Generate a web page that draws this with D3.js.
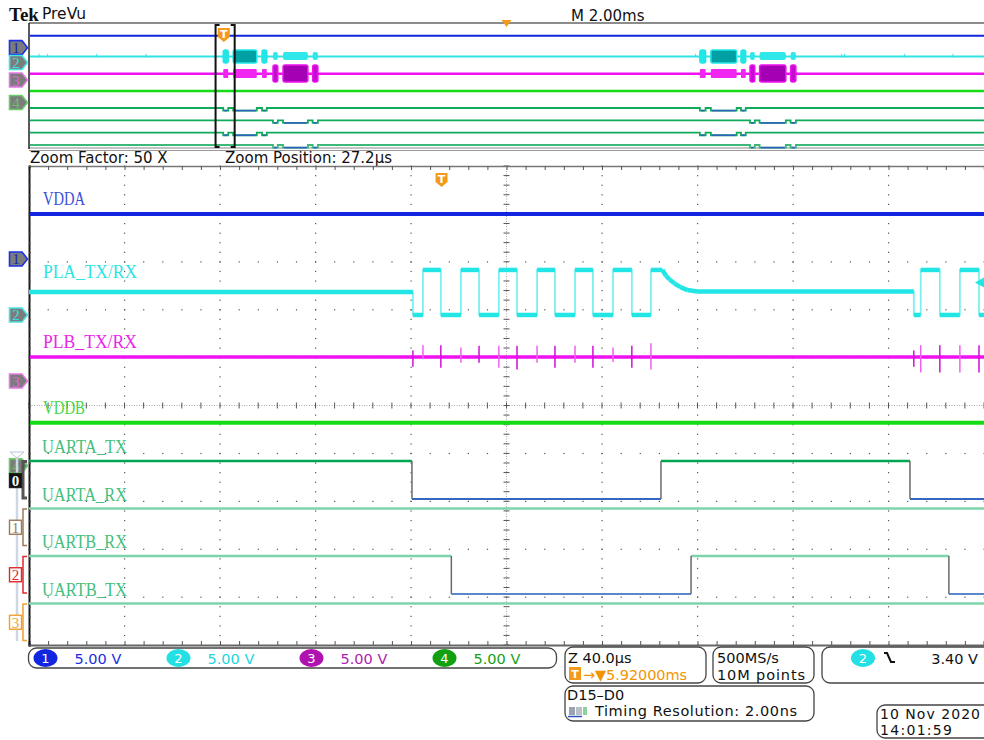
<!DOCTYPE html>
<html>
<head>
<meta charset="utf-8">
<script src="https://cdn.jsdelivr.net/npm/d3@7"></script>
<style>
  body { margin: 0; background: #fff; }
  svg { display: block; }
  text { font-family: 'DejaVu Sans', sans-serif; }
</style>
</head>
<body>
<div id="app"></div>
<script>
// scope settings, 5 V/div on every analog channel
const voltsPerDiv = 5
const chPosition = [3.06, 1.89, 0.51, -1.26]   // ground marker, divisions above centre
const zoomPerDiv = 40      // us
const zoomCenter = 27.2    // us after trigger
const ovPerDiv = 2         // ms
const ovCenter = 5.92      // ms after trigger
const trigLevel = 3.4      // V on ch2

const analogNames = ['VDDA', 'PLA_TX/RX', 'PLB_TX/RX', 'VDDB']
const digitalNames = ['UARTA_TX', 'UARTA_RX', 'UARTB_RX', 'UARTB_TX']

const vdda = 4.7
const vddb = 4.5
const plbIdle = 2.5

// PLA_TX/RX, [time us, volts]
const plaSteps = [[-172.8, 2.4], [-12.0, 0], [-7.8, 4.7], [-0.3, 0], [8.1, 4.7], [15.7, 0], [24.0, 4.7],
  [31.6, 0], [40.0, 4.7], [47.5, 0], [55.9, 4.7], [63.4, 0], [71.8, 4.7], [79.7, 0], [87.7, 4.7]]
const plaDecay = [[92.5, 4.7], [94, 4.1], [95.5, 3.7], [97.5, 3.3], [100, 2.9], [103, 2.6], [107, 2.45]]
const plaTail = [[197.8, 0], [200.7, 4.7], [208.7, 0], [217.1, 4.7], [225.1, 0]]

// PLB_TX/RX glitches at each edge, volts up / down from idle
const plbSpikeT = [-12.0, -7.8, -0.3, 8.1, 15.7, 24.0, 31.6, 40.0, 47.5, 55.9, 63.4, 71.8, 79.7, 87.7,
  197.8, 200.7, 208.7, 217.1, 225.1]
const plbSpikeUp = [0.7, 1.25, 1.25, 1.0, 1.2, 1.2, 1.2, 1.2, 1.2, 1.2, 1.2, 1.0, 1.2, 1.45, 0.7, 1.25, 1.25, 1.25, 1.25]
const plbSpikeDown = [1.0, 0.2, 1.1, 0.6, 0.6, 1.1, 1.3, 0.6, 1.1, 0.6, 1.1, 0.5, 1.1, 1.3, 1.0, 1.6, 1.6, 1.6, 1.6]

// digital edges, us, both start high
const uartaTxEdges = [-12.4, 91.9, 196.2]
const uartbRxEdges = [4.1, 104.5, 212.5]

// overview bursts, ms
const ovBurstA = [[-0.012, 0.092], [0.196, 0.69], [0.80, 0.90], [9.97, 10.09], [10.20, 10.74], [10.83, 10.93]]
const ovBurstB = [[1.03, 1.13], [1.24, 1.76], [1.86, 1.97], [11.02, 11.12], [11.22, 11.77], [11.87, 11.98]]
const ovPlaGlitch = [-3.87, -3.69, -2.66, -1.63, 9.88, 12.94, 13.0, 14.26, 15.27]

const blue = '#1226e0', cyan = '#22e6e6', magenta = '#f010f0', green = '#14dc14'
const L = 29, R = 984

const svg = d3.select('#app').append('svg').attr('width', 984).attr('height', 740)

// ---------- header ----------
svg.append('text').attr('x', 9).attr('y', 21).style('font-family', 'Liberation Serif')
  .attr('font-weight', 'bold').attr('font-size', 19).attr('fill', '#111').text('Tek')
svg.append('text').attr('x', 42).attr('y', 19).attr('font-size', 15.5).attr('fill', '#111').text('PreVu')
svg.append('text').attr('x', 571).attr('y', 21).attr('font-size', 15).attr('fill', '#111').text('M 2.00ms')

// ---------- overview ----------
const xOv = d3.scaleLinear().domain([ovCenter - 5 * ovPerDiv, ovCenter + 5 * ovPerDiv]).range([L, R])
const yOv = d3.scaleLinear().domain([5, -5]).range([23, 150])
const yOvLane = d3.scaleLinear().domain([0, 3]).range([108, 145])
const ovv = (ch, v) => yOv(chPosition[ch] + v / voltsPerDiv)
const ov = svg.append('g')

svg.append('path').attr('d', `M${xOv(ovCenter) - 5},20 L${xOv(ovCenter) + 5},20 L${xOv(ovCenter)},27 Z`).attr('fill', '#f39a1e')

ov.append('line').attr('x1', L).attr('x2', R).attr('y1', 23).attr('y2', 23).attr('stroke', '#666').attr('stroke-width', 1.5)
ov.append('line').attr('x1', L).attr('x2', R).attr('y1', 148).attr('y2', 148).attr('stroke', '#888').attr('stroke-width', 1.2)
ov.append('line').attr('x1', L).attr('x2', R).attr('y1', 150.5).attr('y2', 150.5).attr('stroke', '#999').attr('stroke-width', 1.2)
ov.append('line').attr('x1', L).attr('x2', L).attr('y1', 23).attr('y2', 149).attr('stroke', '#222').attr('stroke-width', 1.5)

const hline = (g, y, color, w) => g.append('line').attr('x1', L + 1).attr('x2', R).attr('y1', y).attr('y2', y)
  .attr('stroke', color).attr('stroke-width', w)

hline(ov, ovv(0, vdda), blue, 2)
hline(ov, ovv(1, 2.4), '#30e4e4', 2)
ov.selectAll('.gl').data(ovPlaGlitch).join('line').attr('x1', d => xOv(d)).attr('x2', d => xOv(d))
  .attr('y1', ovv(1, 2.4) - 2.5).attr('y2', ovv(1, 2.4) + 1).attr('stroke', '#30e4e4')
hline(ov, ovv(2, plbIdle), magenta, 2.5)
hline(ov, ovv(3, vddb), green, 2.5)

// cyan bursts
ov.selectAll('.ca').data(ovBurstA).join('rect')
  .attr('x', d => xOv(d[0])).attr('width', d => xOv(d[1]) - xOv(d[0]))
  .attr('y', ovv(1, 4.9)).attr('height', ovv(1, -0.2) - ovv(1, 4.9)).attr('rx', 2)
  .attr('fill', (d, i) => i % 3 === 1 ? '#00a0a4' : cyan).attr('stroke', cyan).attr('stroke-width', 1.5)
ov.selectAll('.cb').data(ovBurstB).join('rect')
  .attr('x', d => xOv(d[0])).attr('width', d => xOv(d[1]) - xOv(d[0]))
  .attr('y', ovv(1, 4.1)).attr('height', ovv(1, 1.0) - ovv(1, 4.1)).attr('rx', 2)
  .attr('fill', '#2ee8ea')
// magenta bursts
ov.selectAll('.ma').data(ovBurstA).join('rect')
  .attr('x', d => xOv(d[0])).attr('width', d => xOv(d[1]) - xOv(d[0]))
  .attr('y', ovv(2, 4.3)).attr('height', ovv(2, 0.8) - ovv(2, 4.3)).attr('rx', 1)
  .attr('fill', '#f026f0')
ov.selectAll('.mb').data(ovBurstB).join('rect')
  .attr('x', d => xOv(d[0])).attr('width', d => xOv(d[1]) - xOv(d[0]))
  .attr('y', ovv(2, 5.9)).attr('height', ovv(2, -0.8) - ovv(2, 5.9)).attr('rx', 2)
  .attr('fill', (d, i) => i % 3 === 1 ? '#a400b4' : '#c40cd0').attr('stroke', magenta).attr('stroke-width', 1.5)

// overview digital lanes
const ovLaneLow = [ovBurstA, ovBurstB, ovBurstA, ovBurstB]
ovLaneLow.forEach((lows, i) => {
  const pts = [[xOv.domain()[0], 0]]
  lows.forEach(([a, b]) => { pts.push([a, 0], [a, 1], [b, 1], [b, 0]) })
  pts.push([xOv.domain()[1], 0])
  ov.append('path').datum(pts)
    .attr('d', d3.line().x(d => Math.max(L + 1, xOv(d[0]))).y(d => yOvLane(i) + d[1] * 2.6))
    .attr('fill', 'none').attr('stroke', i === 3 ? '#3cb878' : '#0faa5c').attr('stroke-width', 1.8)
  ov.selectAll('.lo' + i).data(lows).join('line')
    .attr('x1', d => xOv(d[0]) + 1).attr('x2', d => xOv(d[1]) - 1)
    .attr('y1', yOvLane(i) + 2.6).attr('y2', yOvLane(i) + 2.6)
    .attr('stroke', '#2f62c0').attr('stroke-width', 1.6)
})

// zoom bracket and trigger marker
const bx0 = xOv(zoomCenter / 1000 - 5 * zoomPerDiv / 1000), bx1 = xOv(zoomCenter / 1000 + 5 * zoomPerDiv / 1000)
ov.append('path').attr('d', `M${bx0 + 4},25 H${bx0} V147 H${bx0 + 4} M${bx1 - 4},25 H${bx1} V147 H${bx1 - 4}`)
  .attr('fill', 'none').attr('stroke', '#111').attr('stroke-width', 2)

function trigT(g, x, y) {
  g.append('path').attr('d', `M${x - 6},${y} h12 v9 l-6,5 l-6,-5 Z`).attr('fill', '#f39a1e')
  g.append('text').attr('x', x).attr('y', y + 10).attr('text-anchor', 'middle').attr('font-size', 11)
    .attr('font-weight', 'bold').attr('fill', '#fff').text('T')
}
trigT(ov, xOv(0), 28)

function chMarker(g, y, stroke, txt, txtColor) {
  g.append('path').attr('d', `M9.5,${y - 7} H22 L27.5,${y} L22,${y + 7} H9.5 Z`)
    .attr('fill', '#7c7c7c').attr('stroke', stroke).attr('stroke-width', 1.6)
  g.append('text').attr('x', 16).attr('y', y + 5.5).attr('text-anchor', 'middle').style('font-family', 'Liberation Serif')
    .attr('font-size', 15).attr('fill', txtColor).text(txt)
}
const mkStroke = ['#1a30ea', '#48e4e4', '#e27ae2', '#6ccc6c']
const mkText = ['#1626b0', '#3ae0e0', '#e064e0', '#66c466']
chPosition.forEach((p, i) => chMarker(ov, yOv(p), mkStroke[i], i + 1, mkText[i]))

// ---------- zoom info ----------
svg.append('text').attr('x', 30).attr('y', 163).attr('font-size', 15).attr('fill', '#111').text('Zoom Factor: 50 X')
svg.append('text').attr('x', 225).attr('y', 163).attr('font-size', 15).attr('fill', '#111').text('Zoom Position: 27.2µs')

// ---------- main window ----------
const T = 166, B = 645
const xMain = d3.scaleLinear().domain([zoomCenter - 5 * zoomPerDiv, zoomCenter + 5 * zoomPerDiv]).range([L, R])
const xDiv = d3.scaleLinear().domain([-5, 5]).range([L, R])
const yDiv = d3.scaleLinear().domain([5, -5]).range([T, B])
const yv = (ch, v) => yDiv(chPosition[ch] + v / voltsPerDiv)
const t0 = xMain.domain()[0], t1 = xMain.domain()[1]
const main = svg.append('g')

// graticule
const minor = d3.range(-25, 26).map(d => d / 5)
const grid = main.append('g').attr('fill', '#555')
d3.range(-4, 5).filter(k => k !== 0).forEach(k => {
  grid.selectAll('.v' + (k + 5)).data(minor).join('rect')
    .attr('x', xDiv(k) - 0.5).attr('y', d => yDiv(d) - 0.5).attr('width', 1.2).attr('height', 1.2)
  grid.selectAll('.h' + (k + 5)).data(minor).join('rect')
    .attr('x', d => xDiv(d) - 0.5).attr('y', yDiv(k) - 0.5).attr('width', 1.2).attr('height', 1.2)
})
main.append('line').attr('x1', xDiv(0)).attr('x2', xDiv(0)).attr('y1', T).attr('y2', B)
  .attr('stroke', '#aaa').attr('stroke-dasharray', '1,1.5')
main.append('line').attr('x1', L).attr('x2', R).attr('y1', yDiv(0)).attr('y2', yDiv(0))
  .attr('stroke', '#aaa').attr('stroke-dasharray', '1,1.5')
main.selectAll('.cx').data(minor).join('line')
  .attr('x1', xDiv(0) - 3).attr('x2', xDiv(0) + 3).attr('y1', d => yDiv(d)).attr('y2', d => yDiv(d))
  .attr('stroke', '#555').attr('stroke-width', 1)
main.selectAll('.cy').data(minor).join('line')
  .attr('y1', yDiv(0) - 3).attr('y2', yDiv(0) + 3).attr('x1', d => xDiv(d)).attr('x2', d => xDiv(d))
  .attr('stroke', '#555').attr('stroke-width', 1)

// border axes
const topAx = main.append('g').attr('transform', `translate(0,${T})`)
  .call(d3.axisBottom(xDiv).tickValues(minor).tickSize(4).tickFormat(''))
const botAx = main.append('g').attr('transform', `translate(0,${B})`)
  .call(d3.axisTop(xDiv).tickValues(minor).tickSize(4).tickFormat(''))
const leftAx = main.append('g').attr('transform', `translate(${L},0)`)
  .call(d3.axisRight(yDiv).tickValues(minor).tickSize(2).tickFormat(''))
topAx.select('.domain').attr('stroke', '#777').attr('stroke-width', 1.5)
botAx.select('.domain').attr('stroke', '#666').attr('stroke-width', 2.2)
leftAx.select('.domain').attr('stroke', '#1a1a1a').attr('stroke-width', 2)
main.selectAll('.tick line').attr('stroke', '#555')

const plot = main.append('g')
const line = d3.line().x(d => xMain(d[0])).y(d => d[1])

// VDDA
hline(plot, yv(0, vdda), blue, 4)

// PLA
function stepPts(steps, tEnd) {
  const pts = []
  steps.forEach((s, i) => {
    if (i > 0) pts.push([s[0], steps[i - 1][1]])
    pts.push(s)
  })
  pts.push([tEnd, steps[steps.length - 1][1]])
  return pts
}
const decayEnd = plaDecay[plaDecay.length - 1]
const plaPts = stepPts(plaSteps, plaDecay[0][0])
  .concat(plaDecay.slice(1), stepPts([decayEnd, ...plaTail], t1).slice(1))
const plaXY = plaPts.map(p => [p[0], yv(1, p[1])])
plot.append('path').datum(plaXY).attr('d', line).attr('fill', 'none')
  .attr('stroke', '#7cf0f0').attr('stroke-width', 1.8)
const plaFlat = d3.pairs(plaXY).filter(([a, b]) => a[0] !== b[0])
plot.selectAll('.pf').data(plaFlat).join('line')
  .attr('x1', d => xMain(d[0][0])).attr('x2', d => xMain(d[1][0]))
  .attr('y1', d => d[0][1]).attr('y2', d => d[1][1])
  .attr('stroke', cyan).attr('stroke-width', 4.5).attr('stroke-linecap', 'butt')

// trigger level arrow
plot.append('path').attr('d', `M${R},${yv(1, trigLevel) - 5} L${R - 9},${yv(1, trigLevel)} L${R},${yv(1, trigLevel) + 5} Z`)
  .attr('fill', cyan)

// PLB
hline(plot, yv(2, plbIdle), magenta, 3.5)
plot.selectAll('.sp').data(plbSpikeT).join('line')
  .attr('x1', d => xMain(d)).attr('x2', d => xMain(d))
  .attr('y1', (d, i) => yv(2, plbIdle + plbSpikeUp[i])).attr('y2', (d, i) => yv(2, plbIdle - plbSpikeDown[i]))
  .attr('stroke', (d, i) => i % 2 ? '#f060f0' : '#d010d8').attr('stroke-width', 1.5)

// VDDB
hline(plot, yv(3, vddb), green, 4)

// digital lanes
const dY = d3.scaleLinear().domain([0, 4]).range([461, 651])
const digEdges = [uartaTxEdges, [], uartbRxEdges, []]
const highColor = ['#00a652', '#7ed4aa', '#7ed4aa', '#7ed4aa']
digEdges.forEach((edges, i) => {
  const bounds = [t0, ...edges, t1]
  const segs = d3.pairs(bounds).map((p, k) => ({ a: p[0], b: p[1], high: k % 2 === 0 }))
  const yH = dY(i), yL = dY(i + 0.8)
  plot.selectAll('.ds' + i).data(segs).join('line')
    .attr('x1', d => xMain(d.a)).attr('x2', d => xMain(d.b))
    .attr('y1', d => d.high ? yH : yL).attr('y2', d => d.high ? yH : yL)
    .attr('stroke', d => d.high ? highColor[i] : (i === 0 ? '#3466c4' : '#5a86cc'))
    .attr('stroke-width', d => d.high ? 2.6 : 2)
  plot.selectAll('.de' + i).data(edges).join('line')
    .attr('x1', d => xMain(d)).attr('x2', d => xMain(d)).attr('y1', yH).attr('y2', yL)
    .attr('stroke', '#6a6a6a').attr('stroke-width', 1.5)
})

// trace labels
const labelW = [42, 94, 94, 42]
const analogY = [yv(0, vdda), yv(1, 2.4), yv(2, plbIdle), yv(3, vddb)]
const analogCol = ['#3a4ed8', '#2ee4e4', '#ea26ea', '#46d646']
analogNames.forEach((n, i) => {
  main.append('text').attr('x', 43).attr('y', analogY[i] - (i === 1 ? 14 : 9)).style('font-family', 'Liberation Serif')
    .attr('font-size', 19).attr('textLength', labelW[i]).attr('lengthAdjust', 'spacingAndGlyphs')
    .attr('fill', analogCol[i]).text(n)
})
digitalNames.forEach((n, i) => {
  main.append('text').attr('x', 42).attr('y', dY(i) - 8).style('font-family', 'Liberation Serif')
    .attr('font-size', 19).attr('textLength', 85).attr('lengthAdjust', 'spacingAndGlyphs')
    .attr('fill', '#44c07c').text(n)
})

trigT(main, xMain(0), 173)

// left markers
const mk = svg.append('g')
chPosition.forEach((p, i) => chMarker(mk, yDiv(p), mkStroke[i], i + 1, mkText[i]))
mk.append('line').attr('x1', 17).attr('x2', 17).attr('y1', dY(0) - 3).attr('y2', dY(4) - 10)
  .attr('stroke', '#cfd6e4').attr('stroke-width', 2.5)
mk.append('path').attr('d', `M10,${dY(0) - 9} H24 L17,${dY(0) - 3} Z`).attr('fill', '#fff').attr('stroke', '#b8c4dc')
const digMk = ['#222', '#9c7a58', '#e02828', '#f0a030']
digMk.forEach((c, i) => {
  const y0 = dY(i) + 0.5, y1 = dY(i + 0.8) - 1
  mk.append('path').attr('d', `M27,${y0} H23 V${y1} H27`).attr('fill', 'none')
    .attr('stroke', i === 0 ? '#555' : c).attr('stroke-width', i === 0 ? 3 : 1.5)
  const ym = i === 0 ? y0 + 19 : (y0 + y1) / 2
  mk.append('rect').attr('x', 9.5).attr('y', ym - 7).attr('width', 12).attr('height', 14)
    .attr('fill', i === 0 ? '#111' : '#fff').attr('stroke', c).attr('stroke-width', 1.4)
  mk.append('text').attr('x', 15.5).attr('y', ym + 5.5).attr('text-anchor', 'middle').style('font-family', 'Liberation Serif')
    .attr('font-size', 15).attr('fill', i === 0 ? '#fff' : c).attr('font-weight', i === 0 ? 'bold' : 'normal').text(i)
})

// ---------- status bar ----------
const fs = 14.5
const sb = svg.append('g')
const box = (x, y, w, h) => sb.append('rect').attr('x', x).attr('y', y).attr('width', w).attr('height', h)
  .attr('rx', 8).attr('fill', '#fff').attr('stroke', '#444').attr('stroke-width', 1.3)
box(28.5, 648, 528, 20)
const vColor = [['#1226e0', '#1a2ee0'], ['#22e0e4', '#22d6e0'], ['#b012b0', '#b020b0'], ['#10a010', '#14a014']]
vColor.forEach((c, i) => {
  const cx = 45.5 + i * 133
  sb.append('ellipse').attr('cx', cx).attr('cy', 658).attr('rx', 12).attr('ry', 9).attr('fill', c[0])
  sb.append('text').attr('x', cx).attr('y', 663).attr('text-anchor', 'middle').attr('font-size', 13)
    .attr('fill', '#fff').text(i + 1)
  sb.append('text').attr('x', cx + 29).attr('y', 664).attr('font-size', 14.5).attr('fill', c[1]).text(voltsPerDiv.toFixed(2) + ' V')
})

box(565, 647, 141, 36)
sb.append('text').attr('x', 568).attr('y', 663).attr('font-size', fs).attr('fill', '#111').text('Z 40.0µs')
sb.append('rect').attr('x', 569).attr('y', 667).attr('width', 12).attr('height', 13).attr('fill', '#f39a1e')
sb.append('text').attr('x', 575).attr('y', 678).attr('text-anchor', 'middle').attr('font-size', 11).attr('font-weight', 'bold')
  .attr('fill', '#fff').text('T')
sb.append('text').attr('x', 583).attr('y', 680).attr('font-size', fs).attr('fill', '#f29400')
  .attr('textLength', 104).attr('lengthAdjust', 'spacing').text('→▼5.92000ms')

box(713, 647, 101, 36)
sb.append('text').attr('x', 717).attr('y', 663).attr('font-size', fs).attr('fill', '#111').text('500MS/s')
sb.append('text').attr('x', 717).attr('y', 680).attr('font-size', fs).attr('fill', '#111')
  .attr('textLength', 88).attr('lengthAdjust', 'spacing').text('10M points')

box(822, 647, 170, 36)
sb.append('ellipse').attr('cx', 863).attr('cy', 658).attr('rx', 12).attr('ry', 9).attr('fill', '#22e0e4')
sb.append('text').attr('x', 863).attr('y', 663).attr('text-anchor', 'middle').attr('font-size', 13).attr('fill', '#fff').text('2')
sb.append('path').attr('d', 'M884,653 H887 L891,662 H895').attr('fill', 'none').attr('stroke', '#111').attr('stroke-width', 2)
sb.append('text').attr('x', 978).attr('y', 664).attr('text-anchor', 'end').attr('font-size', fs).attr('fill', '#111')
  .text(trigLevel.toFixed(2) + ' V')

box(565, 686, 249, 35)
sb.append('text').attr('x', 567).attr('y', 700).attr('font-size', fs).attr('fill', '#111').text('D15–D0')
sb.append('rect').attr('x', 569).attr('y', 707).attr('width', 6).attr('height', 8).attr('fill', '#9aa4b0')
sb.append('rect').attr('x', 576).attr('y', 707).attr('width', 6).attr('height', 8).attr('fill', '#b8c0c8')
sb.append('rect').attr('x', 583).attr('y', 707).attr('width', 4).attr('height', 8).attr('fill', '#8fd0a0')
sb.append('line').attr('x1', 568).attr('x2', 582).attr('y1', 716.5).attr('y2', 716.5).attr('stroke', '#3050c0').attr('stroke-width', 1.5)
sb.append('text').attr('x', 595).attr('y', 716).attr('font-size', fs).attr('fill', '#111')
  .attr('textLength', 202).attr('lengthAdjust', 'spacing').text('Timing Resolution: 2.00ns')

box(877, 705, 115, 33)
sb.append('text').attr('x', 880).attr('y', 719).attr('font-size', 14).attr('fill', '#111')
  .attr('textLength', 100).attr('lengthAdjust', 'spacing').text('10 Nov 2020')
sb.append('text').attr('x', 880).attr('y', 735).attr('font-size', 14).attr('fill', '#111')
  .attr('textLength', 72).attr('lengthAdjust', 'spacing').text('14:01:59')
</script>
</body>
</html>
